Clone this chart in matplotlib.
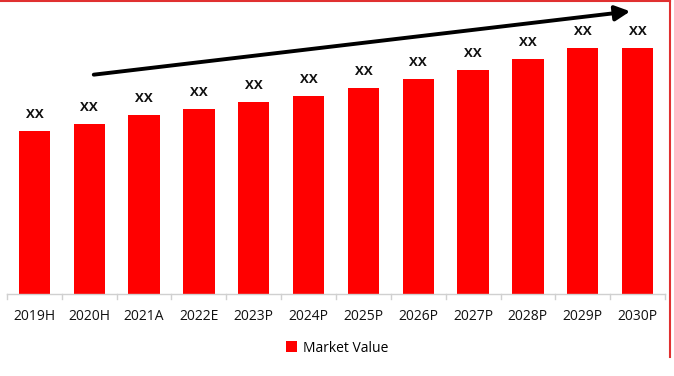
import matplotlib
matplotlib.use("Agg")
import matplotlib.pyplot as plt
from matplotlib.lines import Line2D
from matplotlib.patches import Patch

categories = ["2019H", "2020H", "2021A", "2022E", "2023P", "2024P",
              "2025P", "2026P", "2027P", "2028P", "2029P", "2030P"]
values = [163, 170, 179, 185, 192, 198, 206, 215, 224, 235, 246, 246]
labels = ["XX"] * len(categories)

W, H = 674, 376
fig = plt.figure(figsize=(W / 100, H / 100), dpi=100)
plt.rcParams['font.family'] = ['Open Sans', 'DejaVu Sans']

ax_left, ax_right = 7 / W, 665 / W
ax_bottom = 1 - 294 / H
ax_top = 1 - 20 / H
ax = fig.add_axes([ax_left, ax_bottom, ax_right - ax_left, ax_top - ax_bottom])

x = list(range(len(categories)))
ax.bar(x, values, width=0.57, color="#FF0000", zorder=2)
for xi, v, lab in zip(x, values, labels):
    ax.text(xi, v + 10, lab, ha="center", va="bottom", fontsize=9.5,
            fontweight="bold", color="#111111")

ax.set_xlim(-0.5, len(categories) - 0.5)
ax.set_ylim(0, 274)
ax.set_yticks([])
ax.set_xticks(x)
ax.set_xticklabels(categories, fontsize=10, color="#111111")
ax.tick_params(axis="x", length=0, pad=11)
for s in ["top", "right", "left"]:
    ax.spines[s].set_visible(False)
ax.spines["bottom"].set_color("#D0D0D0")
ax.spines["bottom"].set_linewidth(1)
# category boundary ticks
for b in range(len(categories) + 1):
    ax.plot([b - 0.5, b - 0.5], [0, -5], color="#D0D0D0", lw=1,
            clip_on=False, transform=ax.transData)

# trend arrow
fig.patches.append(matplotlib.patches.FancyArrowPatch(
    (91 / W, 1 - 75 / H), (633 / W, 1 - 11 / H),
    transform=fig.transFigure, arrowstyle="-|>,head_length=6,head_width=3",
    mutation_scale=1.5, lw=2.8, color="black"))

# legend
handle = Patch(facecolor="#FF0000", edgecolor="none")
fig.legend([handle], ["Market Value"], loc="center", bbox_to_anchor=(337 / W, 1 - 348 / H),
           frameon=False, fontsize=10, handlelength=0.8, handleheight=0.8,
           handletextpad=0.4)

# red frame lines
fig.add_artist(Line2D([0, 670 / W], [1 - 1 / H, 1 - 1 / H], transform=fig.transFigure,
                      color="#E03030", lw=1.5))
fig.add_artist(Line2D([670 / W, 670 / W], [1 - 1 / H, 1 - 357 / H], transform=fig.transFigure,
                      color="#E03030", lw=1.5))

fig.savefig("out.png", dpi=100, facecolor="white")
